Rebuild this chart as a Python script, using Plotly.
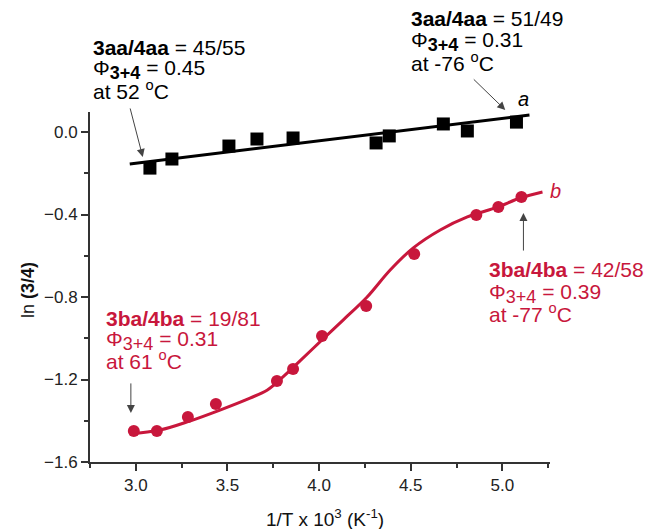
import plotly.graph_objects as go

# ---- data ----
a_x = [3.077, 3.197, 3.508, 3.661, 3.858, 4.311, 4.383, 4.678, 4.809, 5.077]
a_y = [-0.175, -0.131, -0.068, -0.034, -0.029, -0.053, -0.019, 0.039, 0.005, 0.048]
a_fit_x = [2.967, 5.148]
a_fit_y = [-0.155, 0.082]

b_x = [2.989, 3.115, 3.284, 3.437, 3.770, 3.858, 4.016, 4.257, 4.519, 4.858, 4.978, 5.104]
b_y = [-1.450, -1.450, -1.382, -1.319, -1.207, -1.149, -0.989, -0.844, -0.592, -0.402, -0.364, -0.315]
b_fit_x = [2.967, 3.131, 3.295, 3.459, 3.623, 3.716, 3.800, 3.896, 4.016, 4.131, 4.262,
           4.388, 4.514, 4.661, 4.809, 4.973, 5.098, 5.219]
b_fit_y = [-1.464, -1.445, -1.401, -1.348, -1.290, -1.252, -1.190, -1.110, -1.008, -0.912, -0.800,
           -0.669, -0.562, -0.475, -0.412, -0.364, -0.320, -0.291]

x_ticks = [3.0, 3.5, 4.0, 4.5, 5.0]
y_ticks = [0.0, -0.4, -0.8, -1.2, -1.6]

X_RANGE = [2.75, 5.26]
Y_RANGE = [-1.6, 0.097]

RED = "#c8173c"
BLACK = "#000000"
FONT = "Liberation Sans, Arial, sans-serif"


def px(x):
    return (x - X_RANGE[0]) / (X_RANGE[1] - X_RANGE[0])


def py(y):
    return (y - Y_RANGE[0]) / (Y_RANGE[1] - Y_RANGE[0])


fig = go.Figure()
fig.add_trace(go.Scatter(x=a_fit_x, y=a_fit_y, mode="lines",
                         line=dict(color=BLACK, width=3), showlegend=False, hoverinfo="skip"))
fig.add_trace(go.Scatter(x=a_x, y=a_y, mode="markers",
                         marker=dict(symbol="square", size=13, color=BLACK), showlegend=False))
fig.add_trace(go.Scatter(x=b_fit_x, y=b_fit_y, mode="lines",
                         line=dict(color=RED, width=3, shape="spline", smoothing=1.0),
                         showlegend=False, hoverinfo="skip"))
fig.add_trace(go.Scatter(x=b_x, y=b_y, mode="markers",
                         marker=dict(symbol="circle", size=12, color=RED), showlegend=False))

ann = []


def txt(x, y, s, color, size=21, italic=False, xanchor="left"):
    ann.append(dict(x=px(x), y=py(y), xref="paper", yref="paper", text=s, showarrow=False,
                    xanchor=xanchor, yanchor="middle",
                    font=dict(family=FONT, size=size, color=color,
                              style="italic" if italic else "normal")))


def arrow(xh, yh, dx_px, dy_px):
    # head in data units, tail offset in pixels (positive dy = tail below head)
    ann.append(dict(x=px(xh), y=py(yh), xref="paper", yref="paper",
                    ax=dx_px, ay=dy_px, axref="pixel", ayref="pixel",
                    text="", showarrow=True, arrowhead=2, arrowsize=1.6, arrowwidth=1,
                    arrowcolor="#444444", standoff=0))


SUB_B = "<sub><span style='font-size:18px'><b>3+4</b></span></sub>"
SUB = "<sub><span style='font-size:18px'>3+4</span></sub>"

# black, upper left
txt(2.755, 0.412, "<b>3aa/4aa</b> = 45/55", BLACK)
txt(2.755, 0.302, "Φ" + SUB_B + " = 0.45", BLACK)
txt(2.755, 0.204, "at 52 <sup>o</sup>C", BLACK)
arrow(3.038, -0.121, -13, -50)

# black, upper right
txt(4.491, 0.548, "<b>3aa/4aa</b> = 51/49", BLACK)
txt(4.491, 0.438, "Φ" + SUB_B + " = 0.31", BLACK)
txt(4.491, 0.339, "at -76 <sup>o</sup>C", BLACK)
arrow(5.016, 0.107, -33, -32)
txt(5.115, 0.16, "a", BLACK, size=20, italic=True, xanchor="center")

# red, lower left
txt(2.825, -0.902, "<b>3ba/4ba</b> = 19/81", RED)
txt(2.825, -1.010, "Φ" + SUB + " = 0.31", RED)
txt(2.825, -1.106, "at 61 <sup>o</sup>C", RED)
arrow(2.973, -1.362, 0, -31)

# red, right
txt(4.918, -0.669, "<b>3ba/4ba</b> = 42/58", RED)
txt(4.918, -0.782, "Φ" + SUB + " = 0.39", RED)
txt(4.918, -0.878, "at -77 <sup>o</sup>C", RED)
arrow(5.115, -0.393, 0, 39)
txt(5.290, -0.286, "b", RED, size=20, italic=True, xanchor="center")

# axis titles
ann.append(dict(x=(325 - 90) / 460, y=-(518 - 462) / 350, xref="paper", yref="paper",
                text="1/T x 10<sup>3</sup> (K<sup>-1</sup>)", showarrow=False,
                xanchor="center", yanchor="middle",
                font=dict(family=FONT, size=19, color="#111111")))
ann.append(dict(x=-(90 - 28) / 460, y=(462 - 290) / 350, xref="paper", yref="paper",
                text="ln <b>(3/4)</b>", showarrow=False, textangle=-90,
                xanchor="center", yanchor="middle",
                font=dict(family=FONT, size=18, color="#111111")))

fig.update_layout(
    width=645, height=529,
    margin=dict(l=90, r=95, t=112, b=67),
    paper_bgcolor="white", plot_bgcolor="white",
    font=dict(family=FONT, size=17, color="#222222"),
    annotations=ann,
    xaxis=dict(range=X_RANGE, tickvals=x_ticks, tickformat=".1f",
               showline=True, linecolor="#333333", linewidth=2,
               ticks="outside", ticklen=7, tickwidth=1.5, tickcolor="#333333",
               showgrid=False, zeroline=False,
               tickfont=dict(family=FONT, size=17, color="#222222"),
               minor=dict(tickvals=[2.75, 3.25, 3.75, 4.25, 4.75, 5.25], ticks="outside",
                          ticklen=4, tickwidth=1.5, tickcolor="#333333", showgrid=False)),
    yaxis=dict(range=Y_RANGE, tickvals=y_ticks, tickformat=".1f",
               showline=True, linecolor="#333333", linewidth=2,
               ticks="outside", ticklen=7, tickwidth=1.5, tickcolor="#333333",
               showgrid=False, zeroline=False,
               tickfont=dict(family=FONT, size=17, color="#222222"),
               minor=dict(tickvals=[-0.2, -0.6, -1.0, -1.4], ticks="outside",
                          ticklen=4, tickwidth=1.5, tickcolor="#333333", showgrid=False)),
)

fig.write_html("out.html", config={"displayModeBar": False},
               post_script="document.body.style.margin='0';document.body.style.padding='0';")
